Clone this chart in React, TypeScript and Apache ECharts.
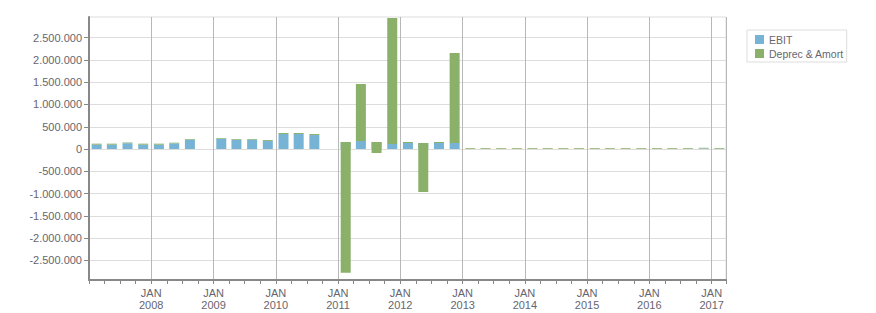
import React, { useEffect, useRef } from "react";
import * as echarts from "echarts";

// Quarter (mid-quarter date) of each bar
const quarters: string[] = [
  "2007-02-15", "2007-05-15", "2007-08-15", "2007-11-15",
  "2008-02-15", "2008-05-15", "2008-08-15", "2008-11-15",
  "2009-02-15", "2009-05-15", "2009-08-15", "2009-11-15",
  "2010-02-15", "2010-05-15", "2010-08-15", "2010-11-15",
  "2011-02-15", "2011-05-15", "2011-08-15", "2011-11-15",
  "2012-02-15", "2012-05-15", "2012-08-15", "2012-11-15",
  "2013-02-15", "2013-05-15", "2013-08-15", "2013-11-15",
  "2014-02-15", "2014-05-15", "2014-08-15", "2014-11-15",
  "2015-02-15", "2015-05-15", "2015-08-15", "2015-11-15",
  "2016-02-15", "2016-05-15", "2016-08-15", "2016-11-15",
  "2017-02-15",
];

const ebit: (number | null)[] = [
  97000, 97000, 127000, 97000,
  97000, 127000, 210000, null,
  232000, 210000, 210000, 180000,
  337000, 337000, 314000, null,
  157000, 180000, 157000, 112000,
  135000, 135000, 135000, 135000,
  0, 0, 0, 0,
  0, 0, 0, 0,
  0, 0, 0, 0,
  0, 0, 0, 12000,
  0,
];

const deprecAmort: (number | null)[] = [
  23000, 23000, 22000, 23000,
  23000, 15000, 15000, null,
  15000, 15000, 15000, 20000,
  22000, 22000, 22000, null,
  -2935000, 1280000, -247000, 2830000,
  22000, -1101000, 22000, 2021000,
  18000, 18000, 18000, 18000,
  18000, 18000, 18000, 18000,
  18000, 18000, 18000, 18000,
  18000, 18000, 18000, 15000,
  18000,
];

const yTickValues: number[] = [
  -2500000, -2000000, -1500000, -1000000, -500000, 0,
  500000, 1000000, 1500000, 2000000, 2500000,
];

const seriesNames: string[] = ["EBIT", "Deprec & Amort"];
const seriesColors: string[] = ["#77b3d4", "#8ab06a"];

const X_START = "2007-01-01";
const X_END = "2017-03-26";

const FONT = "Liberation Sans";
const TEXT_COLOR = "#666670";

function fmtNum(v: number): string {
  const s = Math.abs(Math.round(v))
    .toString()
    .replace(/\B(?=(\d{3})+(?!\d))/g, ".");
  return (v < 0 ? "-" : "") + s;
}

export default function App() {
  const ref = useRef<HTMLDivElement>(null);

  useEffect(() => {
    if (!ref.current) return;
    const chart = echarts.init(ref.current, null, { renderer: "svg" });
    const DAY = 24 * 3600 * 1000;
    const YEAR = 365 * DAY;
    const QUARTER = (365.25 / 4) * DAY;

    const gridLeft = 89;
    const gridRight = 150;
    const plotWidth = 876 - gridLeft - gridRight;
    const barWidth = 10;

    const start = new Date(X_START + "T00:00:00").getTime();
    const end = new Date(X_END + "T00:00:00").getTime();
    // ECharts widens a bar series' base axis by half a bar on each side;
    // pre-shrink so the final extent is exactly [start, end].
    const pad = ((end - start) * (barWidth / 2)) / plotWidth;

    chart.setOption({
      animation: false,
      backgroundColor: "#ffffff",
      grid: {
        left: gridLeft,
        right: gridRight,
        top: 17,
        bottom: 33,
        show: true,
        borderColor: "#dddddd",
        borderWidth: 1,
        containLabel: false,
      },
      legend: {
        orient: "vertical",
        left: 747,
        top: 30,
        padding: [4, 3, 3, 8],
        itemWidth: 9,
        itemHeight: 9,
        itemGap: 3,
        borderColor: "#dddddd",
        borderWidth: 1,
        icon: "rect",
        textStyle: {
          fontFamily: FONT,
          fontSize: 10.5,
          color: TEXT_COLOR,
          lineHeight: 10,
        },
        data: seriesNames,
      },
      xAxis: [
        {
          type: "time",
          position: "bottom",
          min: start + pad,
          max: end - pad,
          splitNumber: 10,
          minInterval: YEAR,
          maxInterval: YEAR + DAY,
          axisLine: {
            show: true,
            onZero: false,
            lineStyle: { color: "#888888", width: 2 },
          },
          axisTick: { show: false },
          splitLine: { show: true, lineStyle: { color: "#b8b8b8", width: 1 } },
          axisLabel: {
            fontFamily: FONT,
            fontSize: 11,
            color: TEXT_COLOR,
            lineHeight: 12,
            margin: 7,
            showMinLabel: false,
            formatter: (value: number) => {
              const d = new Date(value);
              if (d.getFullYear() <= 2007) return "";
              return "JAN\n" + d.getFullYear();
            },
          },
        },
        {
          // quarterly tick marks
          type: "value",
          position: "bottom",
          min: 0,
          max: (end - start) / QUARTER,
          interval: 1,
          axisLine: { show: false, onZero: false },
          axisTick: { show: true, length: 4, lineStyle: { color: "#888888" } },
          axisLabel: { show: false },
          splitLine: { show: false },
        },
      ],
      yAxis: {
        type: "value",
        min: -2942000,
        max: 2965000,
        axisLine: {
          show: true,
          onZero: false,
          lineStyle: { color: "#888888", width: 2 },
        },
        axisTick: {
          show: true,
          length: 5,
          lineStyle: { color: "#888888" },
          customValues: yTickValues,
        },
        splitLine: { show: true, lineStyle: { color: "#dddddd", width: 1 } },
        axisLabel: {
          fontFamily: FONT,
          fontSize: 11,
          color: TEXT_COLOR,
          margin: 7,
          customValues: yTickValues,
          formatter: (v: number) => fmtNum(v),
        },
      },
      series: [
        {
          name: seriesNames[0],
          type: "bar",
          xAxisIndex: 0,
          stack: "total",
          stackStrategy: "all",
          barWidth: barWidth,
          itemStyle: { color: seriesColors[0] },
          data: quarters.map((q, i) => [q, ebit[i]]),
        },
        {
          name: seriesNames[1],
          type: "bar",
          xAxisIndex: 0,
          stack: "total",
          stackStrategy: "all",
          barWidth: barWidth,
          itemStyle: { color: seriesColors[1] },
          data: quarters.map((q, i) => [q, deprecAmort[i]]),
        },
      ],
    });

    return () => chart.dispose();
  }, []);

  return (
    <div
      ref={ref}
      style={{ position: "fixed", left: 0, top: 0, width: 876, height: 313 }}
    />
  );
}
